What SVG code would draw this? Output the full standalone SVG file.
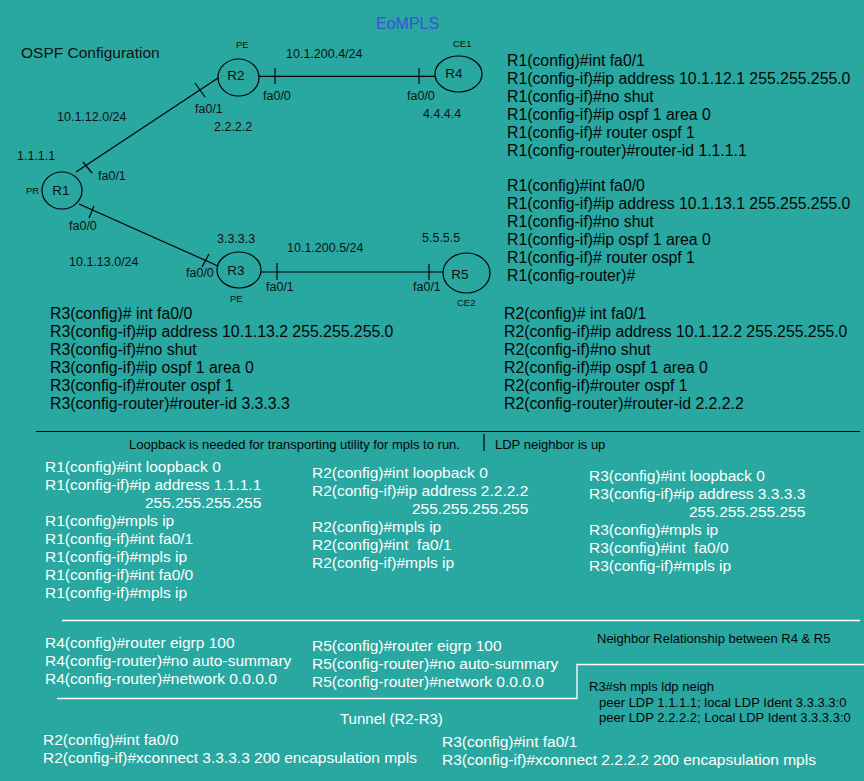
<svg xmlns="http://www.w3.org/2000/svg" width="864" height="781" viewBox="0 0 864 781">
<style>
text{font-family:"Liberation Sans",Arial,sans-serif;white-space:pre}
.node ellipse{fill:none;stroke:#000;stroke-width:1.2}
.nl{font-size:13.5px;fill:#111;text-anchor:middle}
.tag{font-size:9.5px;fill:#111}
.lbl{font-size:12.5px;fill:#111}
.cfg{font-size:15.8px;fill:#050505}
.wcfg{font-size:15.5px;fill:#fff}
.note{font-size:13px;fill:#050505}
.link{stroke:#000;stroke-width:1.2;fill:none}
.wline{stroke:#fff;stroke-width:1.3;fill:none}
</style>
<rect width="864" height="781" fill="#28A8A0"/>

<text x="376" y="29" style="font-size:16px;fill:#3F51D6">EoMPLS</text>
<text x="21" y="58" style="font-size:15.5px;fill:#111">OSPF Configuration</text>

<g id="connectors">
  <line class="link" x1="76" y1="172" x2="218" y2="78"/>
  <line class="link" x1="83" y1="162" x2="92" y2="173"/>
  <line class="link" x1="195" y1="83" x2="205" y2="97"/>
  <line class="link" x1="79" y1="204" x2="218" y2="266"/>
  <line class="link" x1="94" y1="206" x2="89" y2="218"/>
  <line class="link" x1="209" y1="254" x2="202" y2="267"/>
  <line class="link" x1="259" y1="76.3" x2="435" y2="76.3"/>
  <line class="link" x1="275" y1="68" x2="275" y2="84"/>
  <line class="link" x1="419" y1="68" x2="419" y2="84"/>
  <line class="link" x1="261" y1="272" x2="443" y2="272"/>
  <line class="link" x1="277" y1="263" x2="277" y2="280"/>
  <line class="link" x1="429" y1="264" x2="429" y2="280"/>
</g>

<g id="node-R1" class="node">
  <ellipse cx="62" cy="190.5" rx="20" ry="18.5"/>
  <text class="nl" x="61" y="195">R1</text>
  <text class="tag" x="26" y="194">PR</text>
</g>
<g id="node-R2" class="node">
  <ellipse cx="238.5" cy="77.5" rx="20.5" ry="18.5"/>
  <text class="nl" x="236" y="80">R2</text>
  <text class="tag" x="236" y="48">PE</text>
</g>
<g id="node-R4" class="node">
  <ellipse cx="458.5" cy="74" rx="23.5" ry="18"/>
  <text class="nl" x="454" y="77.5">R4</text>
  <text class="tag" x="453" y="47">CE1</text>
</g>
<g id="node-R3" class="node">
  <ellipse cx="239" cy="270" rx="22" ry="18"/>
  <text class="nl" x="236" y="274.5">R3</text>
  <text class="tag" x="230" y="302">PE</text>
</g>
<g id="node-R5" class="node">
  <ellipse cx="466.5" cy="273" rx="23.5" ry="20"/>
  <text class="nl" x="460" y="278.5">R5</text>
  <text class="tag" x="457" y="306">CE2</text>
</g>

<g id="link-labels">
  <text class="lbl" x="286" y="58">10.1.200.4/24</text>
  <text class="lbl" x="263" y="100">fa0/0</text>
  <text class="lbl" x="407" y="100">fa0/0</text>
  <text class="lbl" x="423" y="118">4.4.4.4</text>
  <text class="lbl" x="195" y="113">fa0/1</text>
  <text class="lbl" x="214" y="131">2.2.2.2</text>
  <text class="lbl" x="57" y="121">10.1.12.0/24</text>
  <text class="lbl" x="17" y="160">1.1.1.1</text>
  <text class="lbl" x="98" y="180">fa0/1</text>
  <text class="lbl" x="69" y="230">fa0/0</text>
  <text class="lbl" x="217" y="243">3.3.3.3</text>
  <text class="lbl" x="287" y="252">10.1.200.5/24</text>
  <text class="lbl" x="422" y="242">5.5.5.5</text>
  <text class="lbl" x="69" y="266">10.1.13.0/24</text>
  <text class="lbl" x="186" y="277">fa0/0</text>
  <text class="lbl" x="266" y="291">fa0/1</text>
  <text class="lbl" x="413" y="291">fa0/1</text>
</g>

<g id="ospf-r1">
  <text class="cfg" x="507" y="66">R1(config)#int fa0/1</text>
  <text class="cfg" x="507" y="84">R1(config-if)#ip address 10.1.12.1 255.255.255.0</text>
  <text class="cfg" x="507" y="102">R1(config-if)#no shut</text>
  <text class="cfg" x="507" y="120">R1(config-if)#ip ospf 1 area 0</text>
  <text class="cfg" x="507" y="138">R1(config-if)# router ospf 1</text>
  <text class="cfg" x="507" y="156">R1(config-router)#router-id 1.1.1.1</text>
  <text class="cfg" x="507" y="191">R1(config)#int fa0/0</text>
  <text class="cfg" x="507" y="209">R1(config-if)#ip address 10.1.13.1 255.255.255.0</text>
  <text class="cfg" x="507" y="227">R1(config-if)#no shut</text>
  <text class="cfg" x="507" y="245">R1(config-if)#ip ospf 1 area 0</text>
  <text class="cfg" x="507" y="263">R1(config-if)# router ospf 1</text>
  <text class="cfg" x="507" y="281">R1(config-router)#</text>
</g>
<g id="ospf-r2">
  <text class="cfg" x="504" y="319">R2(config)# int fa0/1</text>
  <text class="cfg" x="504" y="337">R2(config-if)#ip address 10.1.12.2 255.255.255.0</text>
  <text class="cfg" x="504" y="355">R2(config-if)#no shut</text>
  <text class="cfg" x="504" y="373">R2(config-if)#ip ospf 1 area 0</text>
  <text class="cfg" x="504" y="391">R2(config-if)#router ospf 1</text>
  <text class="cfg" x="504" y="409">R2(config-router)#router-id 2.2.2.2</text>
</g>
<g id="ospf-r3">
  <text class="cfg" x="50" y="319">R3(config)# int fa0/0</text>
  <text class="cfg" x="50" y="337">R3(config-if)#ip address 10.1.13.2 255.255.255.0</text>
  <text class="cfg" x="50" y="355">R3(config-if)#no shut</text>
  <text class="cfg" x="50" y="373">R3(config-if)#ip ospf 1 area 0</text>
  <text class="cfg" x="50" y="391">R3(config-if)#router ospf 1</text>
  <text class="cfg" x="50" y="409">R3(config-router)#router-id 3.3.3.3</text>
</g>

<g id="separators">
  <line x1="36" y1="431.5" x2="860" y2="431.5" stroke="#000" stroke-width="1.2"/>
  <line x1="484" y1="434" x2="484" y2="451" stroke="#000" stroke-width="1.2"/>
  <line class="wline" x1="62" y1="620.5" x2="860" y2="620.5"/>
  <polyline class="wline" points="57,698.5 577,698.5 577,664.5 864,664.5"/>
</g>

<text class="note" x="129" y="449">Loopback is needed for transporting utility for mpls to run.</text>
<text class="note" x="495" y="449">LDP neighbor is up</text>

<g id="mpls-r1">
  <text class="wcfg" x="45" y="472">R1(config)#int loopback 0</text>
  <text class="wcfg" x="45" y="490">R1(config-if)#ip address 1.1.1.1</text>
  <text class="wcfg" x="145" y="508">255.255.255.255</text>
  <text class="wcfg" x="45" y="526">R1(config)#mpls ip</text>
  <text class="wcfg" x="45" y="544">R1(config-if)#int fa0/1</text>
  <text class="wcfg" x="45" y="562">R1(config-if)#mpls ip</text>
  <text class="wcfg" x="45" y="580">R1(config-if)#int fa0/0</text>
  <text class="wcfg" x="45" y="598">R1(config-if)#mpls ip</text>
</g>
<g id="mpls-r2">
  <text class="wcfg" x="312" y="478">R2(config)#int loopback 0</text>
  <text class="wcfg" x="312" y="496">R2(config-if)#ip address 2.2.2.2</text>
  <text class="wcfg" x="412" y="514">255.255.255.255</text>
  <text class="wcfg" x="312" y="532">R2(config)#mpls ip</text>
  <text class="wcfg" x="312" y="550">R2(config)#int  fa0/1</text>
  <text class="wcfg" x="312" y="568">R2(config-if)#mpls ip</text>
</g>
<g id="mpls-r3">
  <text class="wcfg" x="589" y="481">R3(config)#int loopback 0</text>
  <text class="wcfg" x="589" y="499">R3(config-if)#ip address 3.3.3.3</text>
  <text class="wcfg" x="689" y="517">255.255.255.255</text>
  <text class="wcfg" x="589" y="535">R3(config)#mpls ip</text>
  <text class="wcfg" x="589" y="553">R3(config)#int  fa0/0</text>
  <text class="wcfg" x="589" y="571">R3(config-if)#mpls ip</text>
</g>

<g id="eigrp-r4">
  <text class="wcfg" x="45" y="648">R4(config)#router eigrp 100</text>
  <text class="wcfg" x="45" y="666">R4(config-router)#no auto-summary</text>
  <text class="wcfg" x="45" y="684">R4(config-router)#network 0.0.0.0</text>
</g>
<g id="eigrp-r5">
  <text class="wcfg" x="312" y="651">R5(config)#router eigrp 100</text>
  <text class="wcfg" x="312" y="669">R5(config-router)#no auto-summary</text>
  <text class="wcfg" x="312" y="687">R5(config-router)#network 0.0.0.0</text>
</g>

<text class="note" x="597" y="643">Neighbor Relationship between R4 &amp; R5</text>
<g id="ldp-neigh">
  <text class="note" x="589" y="691">R3#sh mpls ldp neigh</text>
  <text class="note" x="599" y="707">peer LDP 1.1.1.1; local LDP Ident 3.3.3.3:0</text>
  <text class="note" x="599" y="722">peer LDP 2.2.2.2; Local LDP Ident 3.3.3.3:0</text>
</g>

<text x="340" y="724" style="font-size:15px;fill:#fff">Tunnel (R2-R3)</text>
<g id="tunnel-r2">
  <text class="wcfg" x="43" y="745">R2(config)#int fa0/0</text>
  <text class="wcfg" x="43" y="763">R2(config-if)#xconnect 3.3.3.3 200 encapsulation mpls</text>
</g>
<g id="tunnel-r3">
  <text class="wcfg" x="442" y="747">R3(config)#int fa0/1</text>
  <text class="wcfg" x="442" y="765">R3(config-if)#xconnect 2.2.2.2 200 encapsulation mpls</text>
</g>
</svg>
